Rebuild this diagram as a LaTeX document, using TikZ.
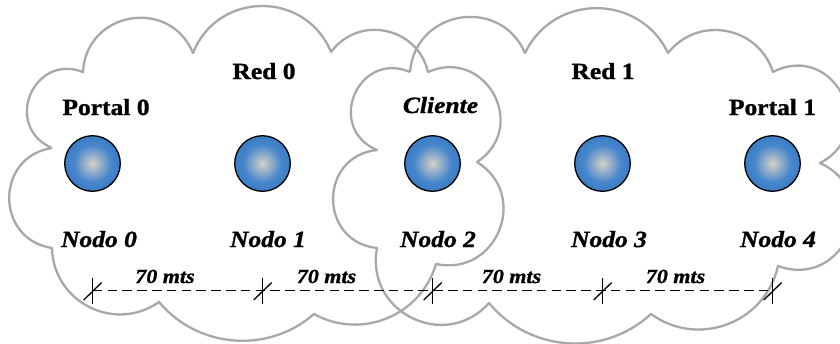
\documentclass[tikz,border=0pt]{standalone}
\usepackage{fontspec}
\setmainfont{Liberation Serif}[FakeStretch=1.1,
  BoldFeatures={FakeBold=1.2}, BoldItalicFeatures={FakeBold=1.2}]

\definecolor{nubegris}{RGB}{168,168,168}
\definecolor{bolacentro}{RGB}{214,208,200}
\definecolor{bolamedio}{RGB}{70,134,204}
\definecolor{bolaborde}{RGB}{22,96,176}
\pgfdeclareradialshading{nodoshade}{\pgfpoint{0bp}{0bp}}{color(0bp)=(bolacentro); color(17bp)=(bolamedio); color(50bp)=(bolaborde)}

% one puff of a cloud: #1 = height / chord
\tikzset{
  puff/.code={%
    \pgfmathsetmacro\puffang{2*atan(2*#1)}%
    \pgfmathsetmacro\puffloose{4/3*#1/(0.3915*sin(\puffang))}%
    \edef\pufftmp{\noexpand\pgfkeysalso{/tikz/bend left=\puffang,/tikz/looseness=\puffloose}}%
    \pufftmp
  }
}

\begin{document}
\begin{tikzpicture}[x=0.5pt, y=-0.5pt,
  nube/.style={draw=nubegris, line width=1.15pt, line join=round},
  nodoball/.style={circle, draw=black, line width=0.65pt, minimum size=27.8pt, inner sep=0pt, shade, shading=nodoshade},
  redlbl/.style={font=\fontsize{11.6}{14}\selectfont\bfseries, anchor=base, inner sep=0pt},
  nodolbl/.style={font=\fontsize{11.6}{14}\selectfont\bfseries\itshape, anchor=base, inner sep=0pt},
  distlbl/.style={font=\fontsize{10}{12}\selectfont\bfseries\itshape, anchor=base, inner sep=0pt},
  marca/.style={black, line width=0.65pt}]

  \useasboundingbox (0,0) rectangle (840,343);

  % Red 0
  \draw[nube] (52,148) to[puff=0.49] (83,72) to[puff=0.40] (193,53)
    to[puff=0.337] (331,52) to[puff=0.32] (428,72) to[puff=0.46] (477,162)
    to[puff=0.42] (436,264) to[puff=0.24] (314,314) to[puff=0.21] (159,302)
    to[puff=0.30] (52,248) to[puff=0.43] (52,148);

  % Red 1
  \draw[nube] (410,72) to[puff=0.39] (525,53) to[puff=0.315] (668,53)
    to[puff=0.30] (773,72) to[puff=0.5] (820,163) to[puff=0.48] (778,266)
    to[puff=0.27] (651,314) to[puff=0.215] (489,303) to[puff=0.38] (377,248)
    to[puff=0.45] (377,150) to[puff=0.50] (410,72);

  \node[redlbl] (red0) at (264,79) {Red 0};
  \node[redlbl] (red1) at (603,79) {Red 1};
  \node[redlbl] (portal0) at (106,115) {Portal 0};
  \node[redlbl] (portal1) at (772.5,115) {Portal 1};
  \node[nodolbl] (cliente) at (440.5,113) {Cliente};

  \foreach \i in {0,...,4}
    \node[nodoball] (n\i) at ({92.5+170*\i},163.5) {};

  \foreach \i/\x in {0/99,1/268,2/438,3/609,4/778}
    \node[nodolbl] (nodo\i) at (\x,247) {Nodo \i};

  \foreach \i/\x in {0/165,1/326.5,2/511.5,3/675.5}
    \node[distlbl] (d\i) at (\x,283) {70 mts};

  \foreach \i in {0,...,4} {
    \coordinate (t\i) at ({92.7+170*\i},290.5);
    \draw[marca] (t\i) ++(0,-13) -- ++(0,26.5);
    \draw[marca] (t\i) ++(-9,9.5) -- ++(18,-17.5);
  }
  \draw[marca, dash pattern=on 4.8pt off 2.6pt] (t0) -- (t4);

\end{tikzpicture}
\end{document}
